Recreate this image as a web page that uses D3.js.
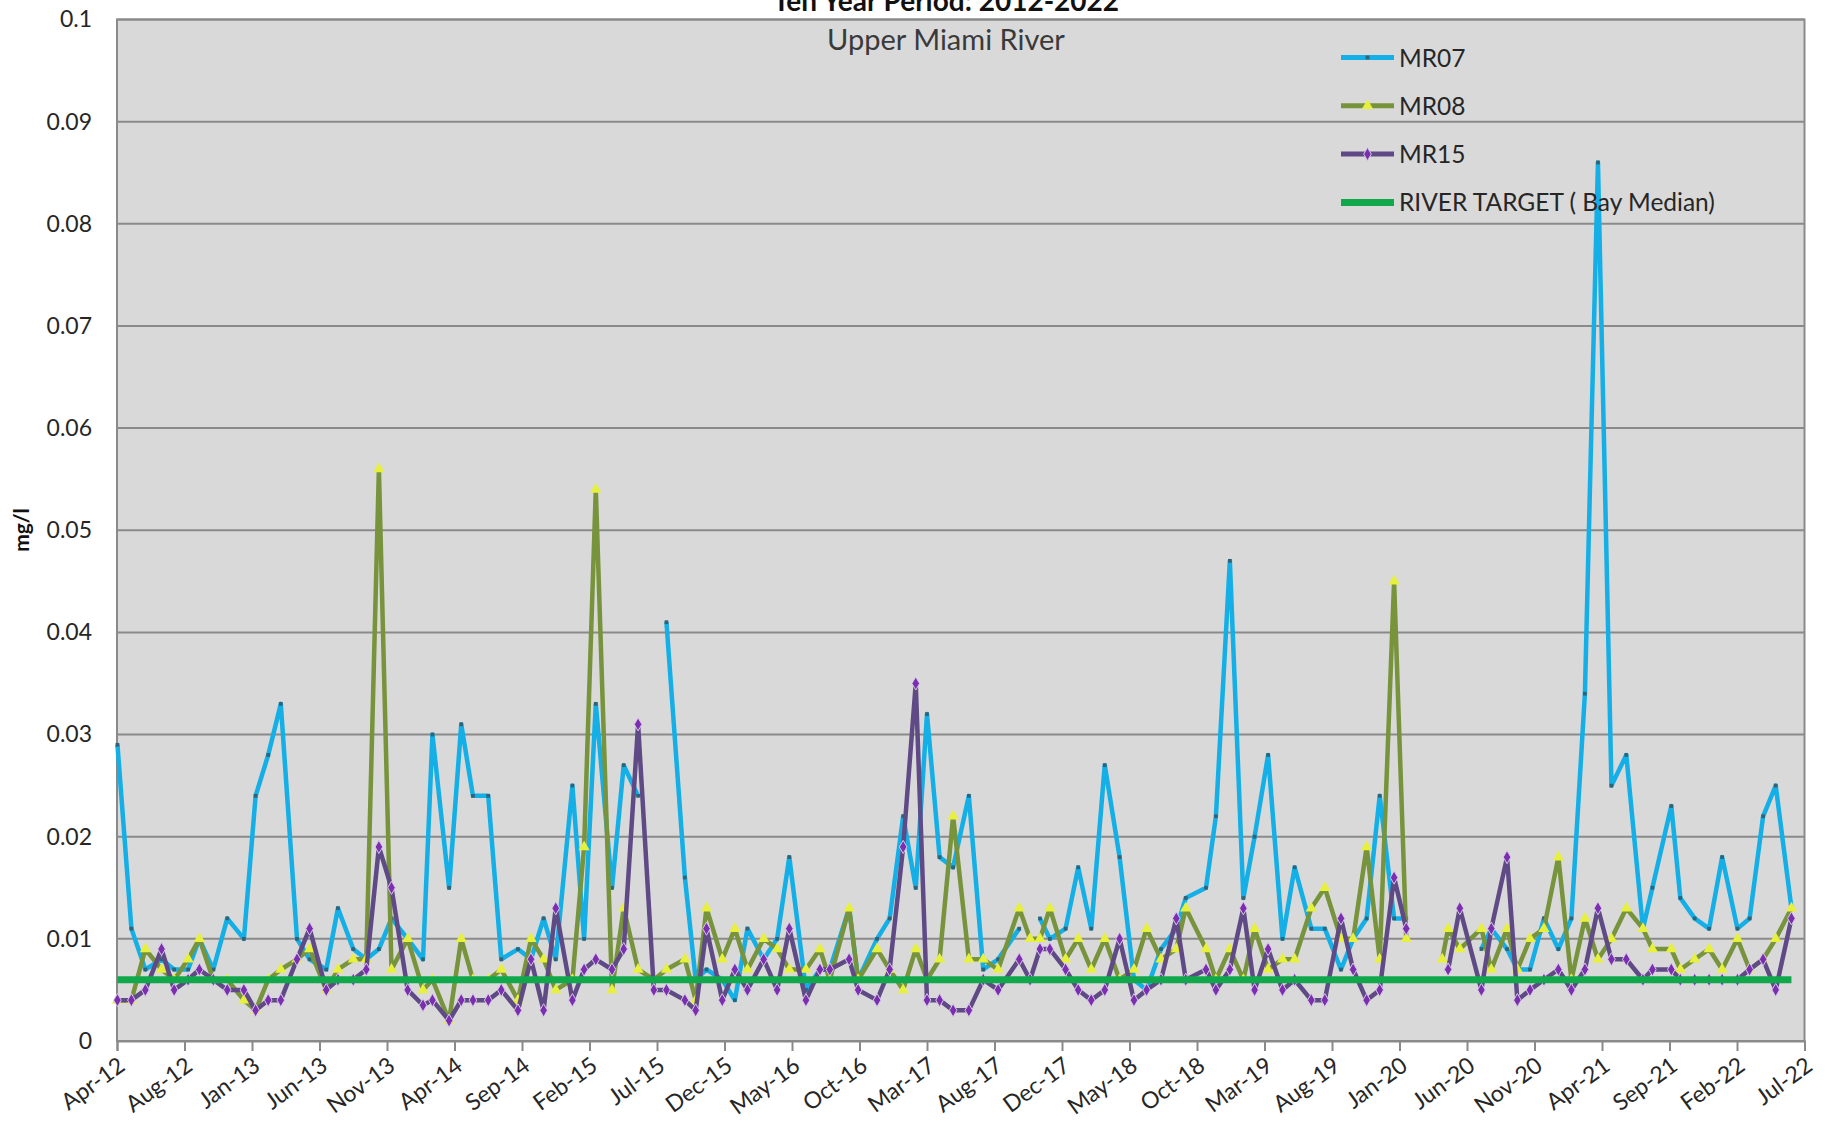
<!DOCTYPE html>
<html><head><meta charset="utf-8">
<script src="https://cdn.jsdelivr.net/npm/d3@7"></script>
<style>
body{margin:0;background:#fff;}
svg{display:block;}
text{font-family:Lato,"Open Sans",sans-serif;}
</style>
</head><body>
<svg id="chart" width="1826" height="1124"></svg>
<script>
// ---------- DATA ----------
const sampleDates = [
"2012-04-02","2012-05-03","2012-06-03","2012-07-09","2012-08-06","2012-09-06","2012-10-01","2012-11-01","2012-12-02",
"2013-01-08","2013-02-03","2013-03-03","2013-03-31","2013-05-06","2013-06-03","2013-07-10","2013-08-05","2013-09-08","2013-10-07","2013-11-04","2013-12-02",
"2014-01-07","2014-02-10","2014-03-03","2014-04-09","2014-05-06","2014-06-01","2014-07-05","2014-08-03","2014-09-09","2014-10-08","2014-11-05","2014-12-02",
"2015-01-08","2015-02-03","2015-03-01","2015-04-06","2015-05-02","2015-06-03","2015-07-08","2015-08-05","2015-09-15","2015-10-09","2015-11-02","2015-12-07",
"2016-01-04","2016-02-01","2016-03-08","2016-04-07","2016-05-04","2016-06-10","2016-07-11","2016-08-02","2016-09-14","2016-10-04","2016-11-15","2016-12-13",
"2017-01-12","2017-02-09","2017-03-06","2017-04-03","2017-05-03","2017-06-07","2017-07-09","2017-08-11","2017-09-27","2017-10-21","2017-11-12","2017-12-04",
"2018-01-08","2018-02-05","2018-03-06","2018-04-05","2018-05-08","2018-06-09","2018-07-07","2018-08-08","2018-09-11","2018-10-02","2018-11-16","2018-12-08",
"2019-01-08","2019-02-07","2019-03-04","2019-04-03","2019-05-05","2019-06-01","2019-07-08","2019-08-07","2019-09-12","2019-10-09","2019-11-08","2019-12-07",
"2020-01-08","2020-02-04","2020-03-15","2020-04-24","2020-05-07","2020-06-02","2020-07-20","2020-08-11","2020-09-15","2020-10-08","2020-11-05","2020-12-06",
"2021-01-07","2021-02-05","2021-03-07","2021-04-05","2021-05-05","2021-06-07","2021-07-14","2021-08-04","2021-09-15","2021-10-05","2021-11-06","2021-12-08",
"2022-01-06","2022-02-09","2022-03-08","2022-04-07","2022-05-05","2022-06-09"
];
const MR07 = [
0.029,0.011,0.007,0.008,0.007,0.007,0.010,0.007,0.012,
0.010,0.024,0.028,0.033,0.010,0.008,0.007,0.013,0.009,0.008,0.009,0.012,
0.010,0.008,0.030,0.015,0.031,0.024,0.024,0.008,0.009,0.008,0.012,0.008,
0.025,0.010,0.033,0.015,0.027,0.024,null,0.041,0.016,0.006,0.007,0.006,
0.004,0.011,0.008,0.010,0.018,0.005,0.007,0.007,0.013,0.006,0.010,0.012,
0.022,0.015,0.032,0.018,0.017,0.024,0.007,0.008,0.011,null,0.012,0.010,
0.011,0.017,0.011,0.027,0.018,0.006,0.005,0.009,0.011,0.014,0.015,0.022,
0.047,0.014,0.020,0.028,0.010,0.017,0.011,0.011,0.007,0.010,0.012,0.024,
0.012,0.012,null,null,null,null,0.009,0.011,0.009,0.007,0.007,0.012,
0.009,0.012,0.034,0.086,0.025,0.028,0.011,0.015,0.023,0.014,0.012,0.011,
0.018,0.011,0.012,0.022,0.025,0.013
];
const MR08 = [
0.004,0.004,0.009,0.007,0.006,0.008,0.010,0.006,0.006,
0.004,0.003,0.006,0.007,0.008,0.009,0.005,0.007,0.008,0.008,0.056,0.007,
0.010,0.005,0.006,0.002,0.010,0.006,0.006,0.007,0.004,0.010,0.008,0.005,
0.006,0.019,0.054,0.005,0.013,0.007,0.006,0.007,0.008,0.004,0.013,0.008,
0.011,0.007,0.010,0.009,0.007,0.007,0.009,0.006,0.013,0.006,0.009,0.007,
0.005,0.009,0.006,0.008,0.022,0.008,0.008,0.007,0.013,0.010,0.010,0.013,
0.008,0.010,0.007,0.010,0.006,0.007,0.011,0.008,0.009,0.013,0.009,0.006,
0.009,0.006,0.011,0.007,0.008,0.008,0.013,0.015,0.010,0.010,0.019,0.008,
0.045,0.010,null,0.008,0.011,0.009,0.011,0.007,0.011,0.007,0.010,0.011,
0.018,0.006,0.012,0.008,0.010,0.013,0.011,0.009,0.009,0.007,0.008,0.009,
0.007,0.010,0.007,0.008,0.010,0.013
];
const MR15 = [
0.004,0.004,0.005,0.009,0.005,0.006,0.007,0.006,0.005,
0.005,0.003,0.004,0.004,0.008,0.011,0.005,0.006,0.006,0.007,0.019,0.015,
0.005,0.0035,0.004,0.002,0.004,0.004,0.004,0.005,0.003,0.008,0.003,0.013,
0.004,0.007,0.008,0.007,0.009,0.031,0.005,0.005,0.004,0.003,0.011,0.004,
0.007,0.005,0.008,0.005,0.011,0.004,0.007,0.007,0.008,0.005,0.004,0.007,
0.019,0.035,0.004,0.004,0.003,0.003,0.006,0.005,0.008,0.006,0.009,0.009,
0.007,0.005,0.004,0.005,0.010,0.004,0.005,0.006,0.012,0.006,0.007,0.005,
0.007,0.013,0.005,0.009,0.005,0.006,0.004,0.004,0.012,0.007,0.004,0.005,
0.016,0.011,null,null,0.007,0.013,0.005,0.011,0.018,0.004,0.005,0.006,
0.007,0.005,0.007,0.013,0.008,0.008,0.006,0.007,0.007,0.006,0.006,0.006,
0.006,0.006,0.007,0.008,0.005,0.012
];
const riverTarget = 0.006;
const seriesNames = ["MR07","MR08","MR15","RIVER TARGET ( Bay Median)"];
const tickLabels = ["Apr-12","Aug-12","Jan-13","Jun-13","Nov-13","Apr-14","Sep-14","Feb-15","Jul-15","Dec-15","May-16","Oct-16","Mar-17","Aug-17","Dec-17","May-18","Oct-18","Mar-19","Aug-19","Jan-20","Jun-20","Nov-20","Apr-21","Sep-21","Feb-22","Jul-22"];
const yTicks = [0,0.01,0.02,0.03,0.04,0.05,0.06,0.07,0.08,0.09,0.1];
const yTickLabels = ["0","0.01","0.02","0.03","0.04","0.05","0.06","0.07","0.08","0.09","0.1"];
const titleText = "Ten Year Period: 2012-2022";
const subtitleText = "Upper Miami River";
const yAxisTitle = "mg/l";
const axisStart = "2012-04-01";
const tickStepDays = 150;

// ---------- LAYOUT ----------
const L = 117, R = 1804.5, T = 19.5, B = 1041;
const parse = d3.utcParse("%Y-%m-%d");
const start = parse(axisStart);
const tickDates = tickLabels.map((_, i) => d3.utcDay.offset(start, i * tickStepDays));
const x = d3.scaleUtc().domain([start, tickDates[tickDates.length - 1]]).range([L, R]);
const y = d3.scaleLinear().domain([0, 0.1]).range([B, T]);

const svg = d3.select("#chart");
const dates = sampleDates.map(parse);

// plot area
svg.append("rect").attr("x", L).attr("y", T).attr("width", R - L).attr("height", B - T)
  .attr("fill", "#d9d9d9");

// gridlines
svg.append("g").selectAll("line").data(yTicks).join("line")
  .attr("x1", L).attr("x2", R).attr("y1", d => y(d)).attr("y2", d => y(d))
  .attr("stroke", "#8a8a8a").attr("stroke-width", 2);

// border
svg.append("rect").attr("x", L).attr("y", T).attr("width", R - L).attr("height", B - T)
  .attr("fill", "none").attr("stroke", "#8a8a8a").attr("stroke-width", 2);

// y axis labels
const yAxis = d3.axisLeft(y).tickValues(yTicks).tickSize(0).tickPadding(25)
  .tickFormat((d, i) => yTickLabels[i]);
const gy = svg.append("g").attr("transform", `translate(${L},0)`).call(yAxis);
gy.select(".domain").remove();
gy.selectAll("text").attr("font-size", 23).attr("fill", "#262626")
  .attr("font-family", "Lato, 'Open Sans', sans-serif");

// x axis
const xAxis = d3.axisBottom(x).tickValues(tickDates).tickSize(10).tickFormat((d, i) => tickLabels[i]);
const gx = svg.append("g").attr("transform", `translate(0,${B})`).call(xAxis);
gx.select(".domain").attr("stroke", "#8a8a8a").attr("stroke-width", 2);
gx.selectAll(".tick line").attr("stroke", "#8a8a8a").attr("stroke-width", 2);
gx.selectAll("text")
  .attr("font-size", 23).attr("fill", "#262626")
  .attr("font-family", "Lato, 'Open Sans', sans-serif")
  .attr("text-anchor", "end")
  .attr("dy", 0)
  .attr("y", 0)
  .attr("transform", "translate(9,28) rotate(-36)");

// series
const seriesDefs = [
  {name: seriesNames[0], values: MR07, color: "#13afe6", marker: "square", mfill: "#2f6377", mstroke: "none"},
  {name: seriesNames[1], values: MR08, color: "#77933c", marker: "triangle", mfill: "#e8f03e", mstroke: "none"},
  {name: seriesNames[2], values: MR15, color: "#5f4a86", marker: "diamond", mfill: "#7b2fae", mstroke: "#d9c7ea"}
];
const line = d3.line().defined(d => d.v != null).x(d => x(d.date)).y(d => y(d.v));
const symbolFor = m => m === "triangle" ? d3.symbol(d3.symbolTriangle, 55)
                      : m === "diamond" ? d3.symbol(d3.symbolDiamond, 50)
                      : d3.symbol(d3.symbolSquare, 14);

seriesDefs.forEach(s => {
  const pts = dates.map((dt, i) => ({date: dt, v: s.values[i]}));
  svg.append("path").datum(pts).attr("d", line)
    .attr("fill", "none").attr("stroke", s.color).attr("stroke-width", 4.5)
    .attr("stroke-linejoin", "round");
  svg.append("g").selectAll("path").data(pts.filter(d => d.v != null)).join("path")
    .attr("d", symbolFor(s.marker))
    .attr("transform", d => `translate(${x(d.date)},${y(d.v)})`)
    .attr("fill", s.mfill).attr("stroke", s.mstroke).attr("stroke-width", 1);
});

// river target
svg.append("line")
  .attr("x1", x(dates[0])).attr("x2", x(dates[dates.length - 1]))
  .attr("y1", y(riverTarget)).attr("y2", y(riverTarget))
  .attr("stroke", "#11a84c").attr("stroke-width", 7);

// titles
svg.append("text").attr("x", 946).attr("y", 11).attr("text-anchor", "middle")
  .attr("font-size", 28).attr("font-weight", "bold").attr("fill", "#111").text(titleText);
svg.append("text").attr("x", 946).attr("y", 50).attr("text-anchor", "middle")
  .attr("font-size", 29).attr("fill", "#3a3a3a").text(subtitleText);
svg.append("text").attr("transform", "translate(29,530) rotate(-90)").attr("text-anchor", "middle")
  .attr("font-size", 21).attr("font-weight", "bold").attr("fill", "#111").text(yAxisTitle);

// legend
const legend = [
  {name: seriesNames[0], color: "#13afe6", w: 5, marker: "square", mfill: "#2f6377", mstroke: "none"},
  {name: seriesNames[1], color: "#77933c", w: 5, marker: "triangle", mfill: "#e8f03e", mstroke: "none"},
  {name: seriesNames[2], color: "#5f4a86", w: 5, marker: "diamond", mfill: "#7b2fae", mstroke: "#d9c7ea"},
  {name: seriesNames[3], color: "#11a84c", w: 7, marker: null}
];
const lg = svg.append("g");
legend.forEach((d, i) => {
  const yy = 57.5 + i * 48.3;
  lg.append("line").attr("x1", 1341).attr("x2", 1394).attr("y1", yy).attr("y2", yy)
    .attr("stroke", d.color).attr("stroke-width", d.w);
  if (d.marker) lg.append("path").attr("d", symbolFor(d.marker)())
    .attr("transform", `translate(1367.5,${yy})`).attr("fill", d.mfill).attr("stroke", d.mstroke);
  lg.append("text").attr("x", 1399).attr("y", yy + 9).attr("font-size", 24.5)
    .attr("fill", "#262626").text(d.name);
});
</script>
</body></html>
